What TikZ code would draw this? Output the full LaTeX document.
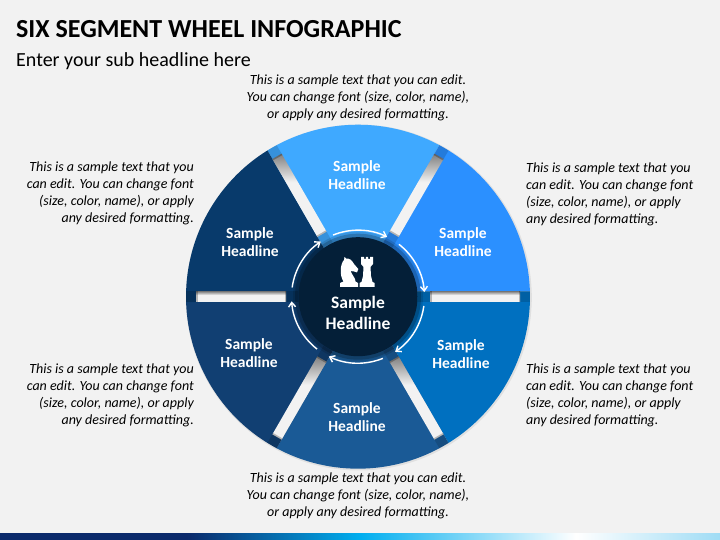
\documentclass[tikz,border=0pt]{standalone}
\usepackage{fontspec}
\setmainfont{Carlito}
\usetikzlibrary{arrows.meta}
\definecolor{pagebg}{HTML}{F2F2F2}
\definecolor{segA}{HTML}{3FA9FF}
\definecolor{segB}{HTML}{2B90FF}
\definecolor{segC}{HTML}{0070C0}
\definecolor{segD}{HTML}{1A5A96}
\definecolor{segE}{HTML}{113F72}
\definecolor{segF}{HTML}{083A6B}
\definecolor{hubcol}{HTML}{041F38}
\definecolor{barA}{HTML}{0B2A6B}
\definecolor{barB}{HTML}{00AEEF}
\definecolor{barC}{HTML}{9FDCF5}
\pgfdeclarehorizontalshading{barshade}{100bp}{
  color(0bp)=(barA); color(38bp)=(barA); color(50bp)=(barB);
  color(65bp)=(white); color(75bp)=(barC); color(100bp)=(barC)}
\pgfdeclareverticalshading{slotshade}{100bp}{
  color(0bp)=(pagebg); color(58bp)=(pagebg); color(75bp)=(black!50); color(100bp)=(black!50)}
\tikzset{
  segment/.style={draw=none},
  slotbox/.style={rotate=#1, minimum width=90pt, minimum height=10.6pt, inner sep=0pt,
    shading=slotshade},
  headline/.style={text=white, align=center, font=\fontsize{15.5}{18.5}\selectfont\bfseries},
  note/.style={font=\fontsize{14}{17}\selectfont\itshape, text=black, inner sep=0pt},
  flowarc/.style={-{Straight Barb[length=4.5pt,width=7pt]}, white, line width=1.4pt},
}
\begin{document}
\begin{tikzpicture}[x=1pt,y=1pt]
  \useasboundingbox (0,0) rectangle (720,540);
  \fill[pagebg] (0,0) rectangle (720,540);
  \shade[shading=barshade] (0,0) rectangle (720,6.5);
  \node[anchor=base west, inner sep=0pt, font=\fontsize{26}{30}\selectfont\bfseries] (title) at (16,502) {SIX SEGMENT WHEEL INFOGRAPHIC};
  \node[anchor=base west, inner sep=0pt, font=\fontsize{20}{24}\selectfont] (subtitle) at (16,473) {Enter your sub headline here};
  \coordinate (hub) at (358,243.3);
  % wheel
  \def\gap{5.3}
  \def\rim{172}
  \fill[black, opacity=.07] ([shift={(.8,-.8)}]hub) circle (173);
  \foreach \a/\col in {120/segA,60/segB,0/segC,-60/segD,-120/segE,-180/segF}{
    \fill[segment, \col] ([shift={(\a+90:\gap)}]hub) -- ([shift={(\a+1.77:\rim)}]hub)
      arc[start angle=\a+1.77, end angle=\a-58.23, radius=\rim]
      -- ([shift={(\a+30:\gap)}]hub) -- cycle;
  }
  % slots
  \foreach \a in {60,0,-60,-120,180,120}{
    \node[slotbox=\a] (slot\a) at ([shift={(\a:117)}]hub) {};
    \fill[black, opacity=.14, rotate around={\a:(hub)}] ([shift={(60,-\gap)}]hub) rectangle ([shift={(72,\gap)}]hub);
    \fill[black, opacity=.14, rotate around={\a:(hub)}] ([shift={(162,-\gap)}]hub) rectangle ([shift={(171.9,\gap)}]hub);
    \fill[black, opacity=.25, rotate around={\a:(hub)}] ([shift={(72,-\gap)}]hub) rectangle ([shift={(73.5,\gap)}]hub);
    \fill[black, opacity=.25, rotate around={\a:(hub)}] ([shift={(160.5,-\gap)}]hub) rectangle ([shift={(162,\gap)}]hub);
  }
  % hub
  \fill[black, opacity=.12] (hub) circle (65);
  \fill[black, opacity=.2] (hub) circle (63);
  \fill[hubcol] (hub) circle (59.5) ;
  \foreach \a in {60,0,-60,-120,-180,-240}{
    \draw[flowarc] ([shift={(\a+52:66.5)}]hub) arc[start angle=\a+52, end angle=\a+4, radius=66.5];
  }
  % chess pieces
  \fill[white] (340,253) -- (358,253) -- (358,257) -- (355.5,258.5) .. controls (355.5,262) and (352,265) .. (350.5,269)
    -- (354,268.5) -- (357,267.5) -- (358.3,271) -- (354,276) .. controls (352,280) and (349,282) .. (346,281.5)
    -- (344.5,283) -- (344,280) .. controls (340,276) and (339.5,264) .. (343.5,258.5) -- (340,257) -- cycle;
  \fill[white] (359.5,253) -- (374.5,253) -- (374.5,257) -- (372.5,258) -- (371,264) -- (370.5,273) -- (373,276)
    -- (373,283) -- (370,283) -- (370,281) -- (368.2,281) -- (368.2,283) -- (365.8,283) -- (365.8,281) -- (364,281)
    -- (364,283) -- (361,283) -- (361,276) -- (363.5,273) -- (363,264) -- (361.5,258) -- (359.5,257) -- cycle;
  \node[headline, font=\fontsize{17.5}{21}\selectfont\bfseries] (hubtext) at (358,227.5) {Sample\\Headline};
  % segment labels
  \node[headline] (headA) at (357,365) {Sample\\Headline};
  \node[headline] (headB) at (463,298) {Sample\\Headline};
  \node[headline] (headC) at (461,186) {Sample\\Headline};
  \node[headline] (headD) at (357,123) {Sample\\Headline};
  \node[headline] (headE) at (249,187) {Sample\\Headline};
  \node[headline] (headF) at (250,298) {Sample\\Headline};
  % notes
  \node[note, align=center] (noteA) at (358,441.7) {This is a sample text that you can edit.\\You can change font (size, color, name),\\or apply any desired formatting.};
  \node[note, align=left, anchor=west] (noteB) at (526,345.2) {This is a sample text that you\\can edit. You can change font\\(size, color, name), or apply\\any desired formatting.};
  \node[note, align=left, anchor=west] (noteC) at (526,144.8) {This is a sample text that you\\can edit. You can change font\\(size, color, name), or apply\\any desired formatting.};
  \node[note, align=center] (noteD) at (358,44) {This is a sample text that you can edit.\\You can change font (size, color, name),\\or apply any desired formatting.};
  \node[note, align=right, anchor=east] (noteE) at (194,347) {This is a sample text that you\\can edit. You can change font\\(size, color, name), or apply\\any desired formatting.};
  \node[note, align=right, anchor=east] (noteF) at (194,145) {This is a sample text that you\\can edit. You can change font\\(size, color, name), or apply\\any desired formatting.};
\end{tikzpicture}
\end{document}
